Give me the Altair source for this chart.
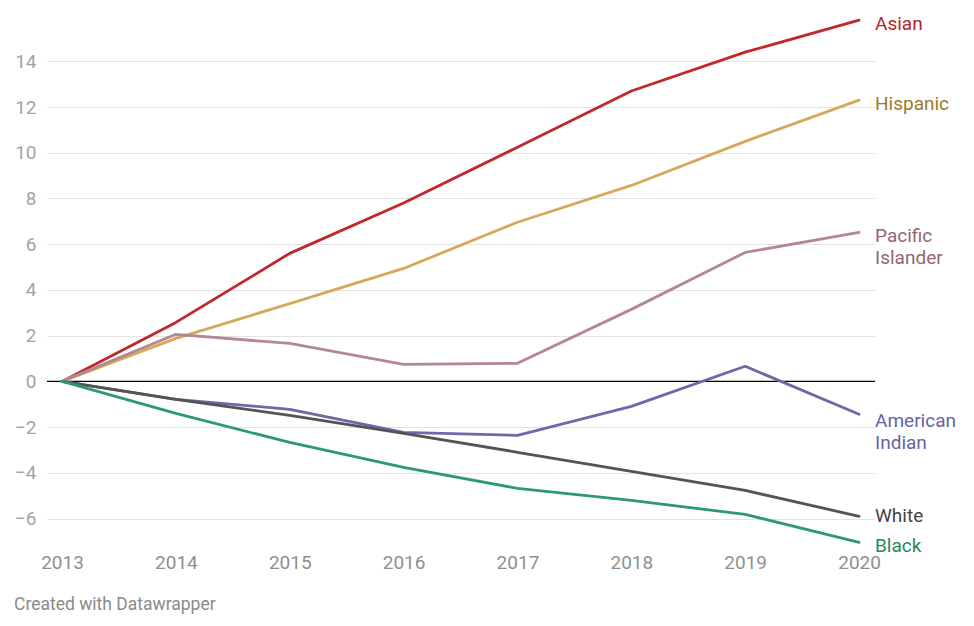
import altair as alt
import pandas as pd

years = [2013, 2014, 2015, 2016, 2017, 2018, 2019, 2020]
asian = [0, 2.58, 5.6, 7.8, 10.24, 12.7, 14.4, 15.8]
hispanic = [0, 1.88, 3.4, 4.94, 6.96, 8.57, 10.5, 12.3]
pacific = [0, 2.06, 1.66, 0.74, 0.79, 3.15, 5.64, 6.52]
american_indian = [0, -0.79, -1.22, -2.23, -2.36, -1.09, 0.66, -1.44]
white = [0, -0.79, -1.49, -2.27, -3.1, -3.94, -4.77, -5.9]
black = [0, -1.4, -2.67, -3.76, -4.68, -5.2, -5.82, -7.04]

series_names = ["Asian", "Hispanic", "Pacific Islander", "American Indian", "White", "Black"]
series_values = [asian, hispanic, pacific, american_indian, white, black]
label_texts = ["Asian", "Hispanic", "Pacific\nIslander", "American\nIndian", "White", "Black"]
line_colors = ["#c0282d", "#d6a85a", "#b5878f", "#6b6aa8", "#545454", "#2e9a6c"]
label_colors = ["#b5242a", "#9a7a2c", "#946575", "#6464a4", "#444444", "#1f8a5a"]
y_ticks = [-6, -4, -2, 0, 2, 4, 6, 8, 10, 12, 14]

rows = []
for name, vals in zip(series_names, series_values):
    for yr, v in zip(years, vals):
        rows.append({"year": yr, "value": v, "series": name})
df = pd.DataFrame(rows)

labels_df = pd.DataFrame({
    "series": series_names,
    "label": label_texts,
    "value": [v[-1] for v in series_values],
    "year": [years[-1]] * len(series_names),
})

W, H = 828, 535
FONT = "Roboto"
LABEL_DY = {"American Indian": -2, "White": -9}

x_scale = alt.Scale(domain=[2012.868, 2020.14], nice=False)
y_scale = alt.Scale(domain=[-7.2, 16.2], nice=False)
color_scale = alt.Scale(domain=series_names, range=line_colors)
label_color_scale = alt.Scale(domain=series_names, range=label_colors)

base = alt.Chart(df)

lines = base.mark_line(strokeWidth=2.8, strokeCap="round", strokeJoin="round").encode(
    x=alt.X("year:Q", scale=x_scale,
            axis=alt.Axis(values=years, format="d", title=None, grid=False, domain=False,
                          ticks=False, labelFont=FONT, labelFontSize=19, labelColor="#8f8f8f",
                          labelPadding=7, labelFlush=False)),
    y=alt.Y("value:Q", scale=y_scale,
            axis=alt.Axis(values=y_ticks, title=None, grid=True, gridColor="#e3e3e3",
                          gridWidth=1, domain=False, ticks=False, labelFont=FONT,
                          labelFontSize=19, labelColor="#a3a3a3", labelPadding=11,
                          format="d")),
    color=alt.Color("series:N", scale=color_scale, legend=None),
    detail="series:N",
)

zero = alt.Chart(pd.DataFrame({"v": [0]})).mark_rule(color="#000000", strokeWidth=1.3).encode(
    y=alt.Y("v:Q", scale=y_scale),
    x=alt.value(0),
    x2=alt.value(W),
)

label_layers = []
for name in series_names:
    label_layers.append(
        alt.Chart(labels_df).transform_filter(alt.datum.series == name).mark_text(
            align="left", baseline="top", dy=LABEL_DY.get(name, -5), font=FONT, fontSize=19,
            lineBreak="\n", lineHeight=22,
        ).encode(
            x=alt.value(W),
            y=alt.Y("value:Q", scale=y_scale),
            text="label:N",
            color=alt.Color("series:N", scale=label_color_scale, legend=None),
        )
    )

footer = alt.Chart(pd.DataFrame({"t": ["Created with Datawrapper"]})).mark_text(
    align="left", baseline="middle", font=FONT, fontSize=17.5, color="#8a8a8a",
).encode(
    x=alt.value(-33),
    y=alt.value(594),
    text="t:N",
)

chart = alt.layer(zero, lines, *label_layers, footer).resolve_scale(color="independent").properties(
    width=W, height=H,
    autosize=alt.AutoSizeParams(type="none"),
    padding={"left": 39, "top": 3, "right": 91, "bottom": 72},
    background="#ffffff",
).configure_view(stroke=None)

chart.save("out.html", embed_options={"renderer": "svg", "actions": False})
